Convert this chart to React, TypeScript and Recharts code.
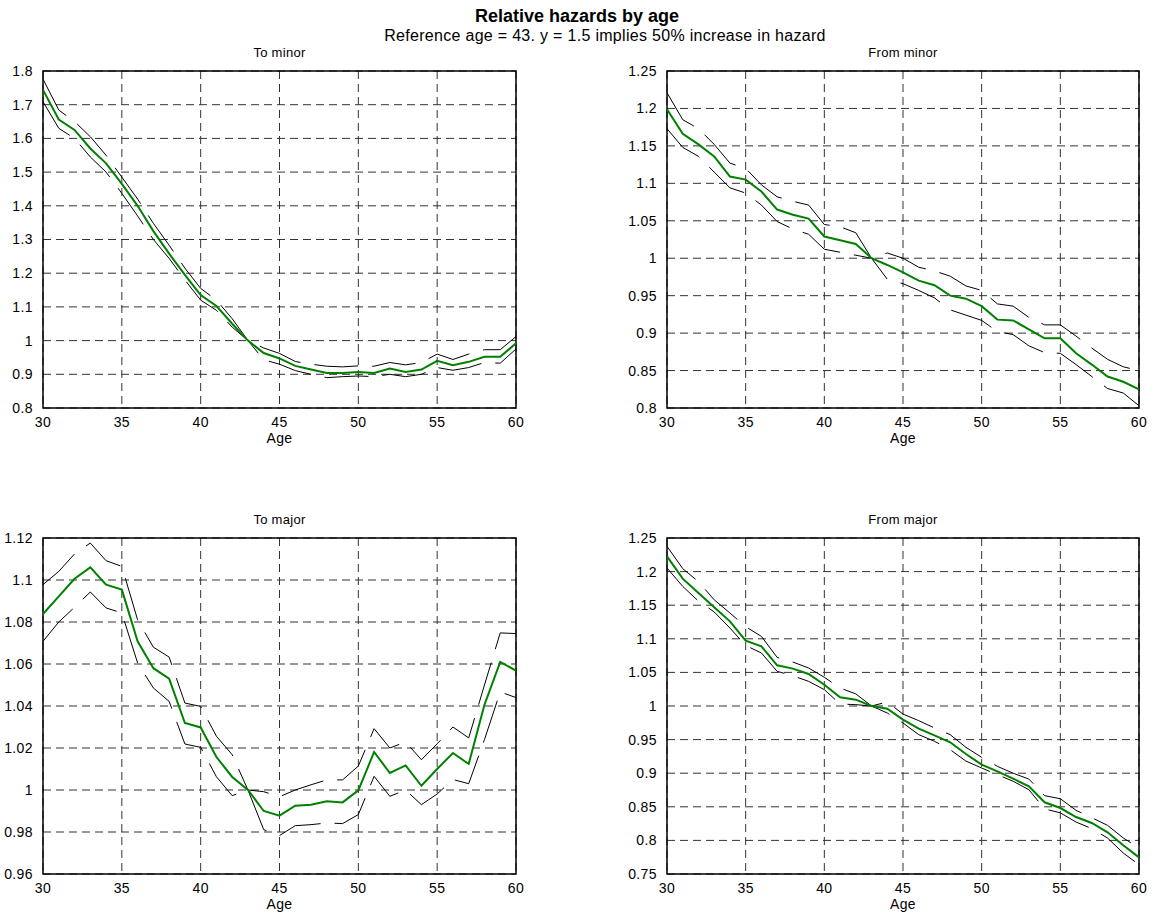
import { LineChart, Line, XAxis, YAxis, CartesianGrid, ReferenceArea } from 'recharts';

const ages = [30, 31, 32, 33, 34, 35, 36, 37, 38, 39, 40, 41, 42, 43, 44, 45, 46, 47, 48, 49, 50, 51, 52, 53, 54, 55, 56, 57, 58, 59, 60];
const ageTicks = [30, 35, 40, 45, 50, 55, 60];

// To minor
const toMinorMid = [1.744, 1.656, 1.625, 1.57, 1.526, 1.465, 1.4, 1.325, 1.258, 1.195, 1.135, 1.103, 1.05, 1.0, 0.963, 0.947, 0.925, 0.914, 0.904, 0.904, 0.907, 0.904, 0.917, 0.907, 0.914, 0.94, 0.927, 0.937, 0.952, 0.952, 0.992];
const toMinorUpper = [1.776, 1.684, 1.65, 1.605, 1.55, 1.485, 1.42, 1.348, 1.283, 1.215, 1.155, 1.12, 1.065, 1.0, 0.978, 0.962, 0.938, 0.93, 0.924, 0.922, 0.925, 0.924, 0.935, 0.928, 0.935, 0.96, 0.944, 0.96, 0.973, 0.973, 1.012];
const toMinorLower = [1.709, 1.63, 1.6, 1.545, 1.5, 1.437, 1.37, 1.3, 1.244, 1.18, 1.12, 1.09, 1.04, 1.0, 0.943, 0.93, 0.911, 0.9, 0.89, 0.893, 0.895, 0.893, 0.9, 0.893, 0.9, 0.92, 0.912, 0.92, 0.935, 0.933, 0.975];
const toMinorTicks = [0.8, 0.9, 1, 1.1, 1.2, 1.3, 1.4, 1.5, 1.6, 1.7, 1.8];

// From minor
const fromMinorMid = [1.199, 1.166, 1.152, 1.136, 1.109, 1.105, 1.089, 1.065, 1.058, 1.053, 1.029, 1.024, 1.019, 1.0, 0.991, 0.981, 0.97, 0.964, 0.95, 0.946, 0.936, 0.918, 0.917, 0.905, 0.893, 0.893, 0.873, 0.858, 0.842, 0.835, 0.825];
const fromMinorUpper = [1.221, 1.185, 1.173, 1.152, 1.127, 1.12, 1.098, 1.082, 1.076, 1.071, 1.045, 1.042, 1.034, 1.0, 1.007, 1.0, 0.988, 0.983, 0.976, 0.963, 0.957, 0.939, 0.936, 0.921, 0.911, 0.911, 0.896, 0.88, 0.865, 0.855, 0.85];
const fromMinorLower = [1.173, 1.148, 1.136, 1.115, 1.094, 1.087, 1.071, 1.049, 1.039, 1.032, 1.012, 1.008, 1.004, 1.0, 0.972, 0.966, 0.957, 0.947, 0.931, 0.924, 0.917, 0.902, 0.898, 0.883, 0.874, 0.873, 0.858, 0.842, 0.826, 0.82, 0.803];
const fromMinorTicks = [0.8, 0.85, 0.9, 0.95, 1, 1.05, 1.1, 1.15, 1.2, 1.25];

// To major
const toMajorMid = [1.0838, 1.0922, 1.1006, 1.106, 1.0978, 1.0954, 1.0708, 1.058, 1.053, 1.0319, 1.0298, 1.0157, 1.0062, 1.0, 0.99, 0.9878, 0.9925, 0.993, 0.9946, 0.9941, 0.9998, 1.0181, 1.0081, 1.0117, 1.002, 1.01, 1.0176, 1.0124, 1.0406, 1.061, 1.0568];
const toMajorUpper = [1.0978, 1.1041, 1.1124, 1.1176, 1.1092, 1.1065, 1.081, 1.068, 1.0633, 1.0414, 1.0398, 1.0256, 1.0168, 1.0, 0.9992, 0.9968, 1.0, 1.0025, 1.0048, 1.0048, 1.0114, 1.0292, 1.02, 1.0229, 1.0144, 1.022, 1.03, 1.0248, 1.05, 1.0748, 1.0745];
const toMajorLower = [1.0708, 1.08, 1.087, 1.0943, 1.0867, 1.0843, 1.0605, 1.0486, 1.0422, 1.0219, 1.0203, 1.0063, 0.9973, 1.0, 0.9811, 0.9783, 0.983, 0.9835, 0.9843, 0.984, 0.9883, 1.0065, 0.997, 1.0, 0.993, 0.9981, 1.005, 1.003, 1.024, 1.0467, 1.044];
const toMajorTicks = [0.96, 0.98, 1, 1.02, 1.04, 1.06, 1.08, 1.1, 1.12];

// From major
const fromMajorMid = [1.2227, 1.1895, 1.168, 1.147, 1.126, 1.0972, 1.0888, 1.0605, 1.0556, 1.0476, 1.0317, 1.0129, 1.0094, 1.0, 0.996, 0.9797, 0.9663, 0.9563, 0.946, 0.9286, 0.9127, 0.9028, 0.8919, 0.8805, 0.8567, 0.8482, 0.8348, 0.8259, 0.812, 0.7927, 0.7748];
const fromMajorUpper = [1.2376, 1.2044, 1.185, 1.158, 1.1384, 1.118, 1.1036, 1.0724, 1.0654, 1.0566, 1.0427, 1.0268, 1.018, 1.0, 1.006, 0.988, 0.9782, 0.9673, 0.9573, 0.9385, 0.9236, 0.9102, 0.9, 0.8913, 0.8666, 0.862, 0.8447, 0.8338, 0.8224, 0.8036, 0.7887];
const fromMajorLower = [1.2054, 1.178, 1.156, 1.14, 1.116, 1.09, 1.0789, 1.0516, 1.045, 1.0367, 1.0243, 1.003, 1.002, 1.0, 0.9896, 0.9747, 0.9574, 0.9475, 0.935, 0.918, 0.9077, 0.8978, 0.888, 0.8754, 0.8468, 0.841, 0.8273, 0.8175, 0.8036, 0.7812, 0.7639];
const fromMajorTicks = [0.75, 0.8, 0.85, 0.9, 0.95, 1, 1.05, 1.1, 1.15, 1.2, 1.25];

const FONT = '"Liberation Sans", Arial, Helvetica, sans-serif';
const tickStyle = { fontSize: 14, fill: '#000', fontFamily: FONT, letterSpacing: 0.4 };

interface PanelProps {
    title: string;
    plotLeft: number;
    plotTop: number;
    plotW: number;
    plotH: number;
    mid: number[];
    upper: number[];
    lower: number[];
    yTicks: number[];
}

const Label = ({ x, y, text, size = 13, bold = false }: { x: number; y: number; text: string; size?: number; bold?: boolean }) => (
    <div
        style={{
            position: 'absolute',
            left: x,
            top: y,
            transform: 'translate(-50%, -50%)',
            whiteSpace: 'nowrap',
            lineHeight: 1,
            fontSize: size,
            fontWeight: bold ? 'bold' : 'normal',
            fontFamily: FONT,
            color: '#000',
            letterSpacing: bold ? 0 : 0.3,
        }}
    >
        {text}
    </div>
);

const Panel = ({ title, plotLeft, plotTop, plotW, plotH, mid, upper, lower, yTicks }: PanelProps) => {
    const data = ages.map((age, i) => ({ age, mid: mid[i], upper: upper[i], lower: lower[i] }));
    const yMin = yTicks[0];
    const yMax = yTicks[yTicks.length - 1];
    const cx = plotLeft + plotW / 2;
    return (
        <>
            <Label x={cx} y={plotTop - 19} text={title} size={13} />
            <div style={{ position: 'absolute', left: plotLeft - 43, top: plotTop - 10 }}>
                <LineChart
                    width={plotW + 58}
                    height={plotH + 40}
                    data={data}
                    margin={{ top: 10, right: 15, left: 3, bottom: 0 }}
                >
                    <CartesianGrid stroke="#333" strokeDasharray="8 5" strokeWidth={1} />
                    <XAxis
                        dataKey="age"
                        type="number"
                        domain={[30, 60]}
                        ticks={ageTicks}
                        height={30}
                        tickLine={false}
                        axisLine={false}
                        tickMargin={3}
                        tick={tickStyle}
                        interval={0}
                    />
                    <YAxis
                        type="number"
                        domain={[yMin, yMax]}
                        ticks={yTicks}
                        width={40}
                        tickLine={false}
                        axisLine={false}
                        tickMargin={4}
                        tick={tickStyle}
                        interval={0}
                        tickFormatter={(v) => String(v)}
                    />
                    <ReferenceArea x1={30} x2={60} y1={yMin} y2={yMax} fill="none" stroke="#000" strokeWidth={1.5} />
                    <Line type="linear" dataKey="upper" stroke="#000" strokeWidth={1} strokeDasharray="44 14" dot={false} isAnimationActive={false} />
                    <Line type="linear" dataKey="lower" stroke="#000" strokeWidth={1} strokeDasharray="44 14" dot={false} isAnimationActive={false} />
                    <Line type="linear" dataKey="mid" stroke="#008000" strokeWidth={2} dot={false} isAnimationActive={false} />
                </LineChart>
            </div>
            <Label x={cx} y={plotTop + plotH + 30} text="Age" size={14} />
        </>
    );
};

const App = () => {
    return (
        <div style={{ position: 'absolute', left: 0, top: 0, width: 1154, height: 916, background: '#fff', fontFamily: FONT }}>
            <Label x={577} y={16} text="Relative hazards by age" size={18} bold />
            <Label x={605} y={36} text="Reference age = 43. y = 1.5 implies 50% increase in hazard" size={16} />
            <Panel title="To minor" plotLeft={43} plotTop={71} plotW={473} plotH={337}
                mid={toMinorMid} upper={toMinorUpper} lower={toMinorLower} yTicks={toMinorTicks} />
            <Panel title="From minor" plotLeft={667} plotTop={71} plotW={472} plotH={337}
                mid={fromMinorMid} upper={fromMinorUpper} lower={fromMinorLower} yTicks={fromMinorTicks} />
            <Panel title="To major" plotLeft={43} plotTop={538} plotW={473} plotH={336}
                mid={toMajorMid} upper={toMajorUpper} lower={toMajorLower} yTicks={toMajorTicks} />
            <Panel title="From major" plotLeft={667} plotTop={538} plotW={472} plotH={336}
                mid={fromMajorMid} upper={fromMajorUpper} lower={fromMajorLower} yTicks={fromMajorTicks} />
        </div>
    );
};

export default App;
